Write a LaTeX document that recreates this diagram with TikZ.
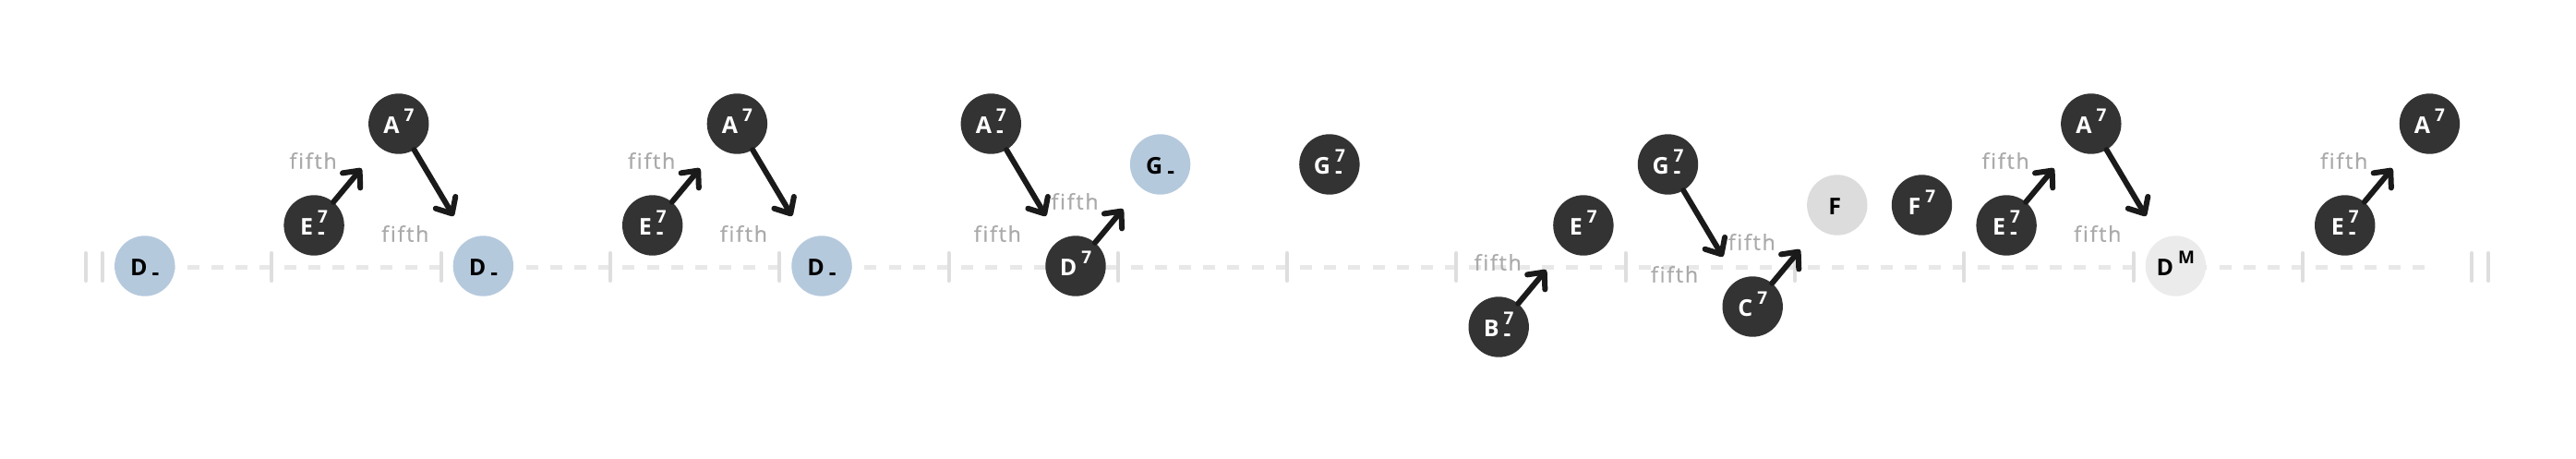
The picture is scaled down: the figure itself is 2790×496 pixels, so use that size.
\documentclass[tikz,border=0pt]{standalone}
\usepackage{fontspec}
\newfontfamily\chfont{Open Sans}
\newfontfamily\lblfont{Open Sans}[LetterSpace=8,Ligatures=CommonOff,FakeBold=1]
\usetikzlibrary{arrows.meta}
\definecolor{chdark}{HTML}{333333}
\definecolor{chblue}{HTML}{B5C9DD}
\definecolor{chgray}{HTML}{DCDCDC}
\definecolor{chpale}{HTML}{EBEBEB}
\definecolor{lblgray}{HTML}{AAAAAA}
\definecolor{barcol}{HTML}{DEDEDE}
\definecolor{dashcol}{HTML}{E8E8E8}
\definecolor{arrcol}{HTML}{1A1A1A}
\newsavebox\chsupbox
\newsavebox\chsubbox
\newcommand\chsym[3]{#1\kern5pt%
 \sbox\chsupbox{\fontsize{19}{19}\selectfont #2}%
 \sbox\chsubbox{\fontsize{24}{24}\selectfont #3}%
 \rlap{\raisebox{13pt}{\fontsize{19}{19}\selectfont\vphantom{7}}}%
 \rlap{\raisebox{13pt}{\usebox\chsupbox}}%
 \rlap{\raisebox{-5pt}{\usebox\chsubbox}}%
 \ifdim\wd\chsupbox>\wd\chsubbox\hspace*{\wd\chsupbox}\else\hspace*{\wd\chsubbox}\fi}
\tikzset{
 chord/.style={circle,minimum size=65.4pt,inner sep=0pt,
   font=\chfont\bfseries\fontsize{25}{25}\selectfont},
 dk/.style={chord,fill=chdark,text=white},
 bl/.style={chord,fill=chblue,text=black},
 gr/.style={chord,fill=chgray,text=black},
 pl/.style={chord,fill=chpale,text=black},
 arr/.style={draw=arrcol,line width=6pt,line cap=round,
   -{Straight Barb[length=14pt,width=25pt,line cap=round,line join=round]},
   shorten <=0pt,shorten >=30pt},
 lbl/.style={text=lblgray,inner sep=0pt,font=\lblfont\fontsize{23}{23}\selectfont},
 barline/.style={draw=barcol,line width=4pt,line cap=round},
 dashline/.style={draw=dashcol,line width=5pt,dash pattern=on 13.1pt off 13.1pt}
}
\begin{document}
\begin{tikzpicture}[x=1pt,y=-1pt]
\useasboundingbox (0,0) rectangle (2790,496);
% staff
\draw[dashline] (124.1,289.5) -- (2626,289.5);
\draw[barline] (93,274) -- (93,304);
\draw[barline] (111,274) -- (111,304);
\foreach \k in {1,...,13} \draw[barline] ({111+183.3*\k},274) -- ({111+183.3*\k},304);
\draw[barline] (2677,274) -- (2677,304);
\draw[barline] (2695,274) -- (2695,304);
% chords
\node[bl] (d1) at (156.8,288) {\chsym{D}{}{-}};
\node[dk] (e1) at (340.1,244) {\chsym{E}{7}{-}};
\node[dk] (a1) at (431.8,134) {\chsym{A}{7}{}};
\node[bl] (d2) at (523.4,288) {\chsym{D}{}{-}};
\node[dk] (e2) at (706.7,244) {\chsym{E}{7}{-}};
\node[dk] (a2) at (798.4,134) {\chsym{A}{7}{}};
\node[bl] (d3) at (890.0,288) {\chsym{D}{}{-}};
\node[dk] (am) at (1073.3,134) {\chsym{A}{7}{-}};
\node[dk] (d7) at (1165.0,288) {\chsym{D}{7}{}};
\node[bl] (gm) at (1256.6,178) {\chsym{G}{}{-}};
\node[dk] (gma) at (1439.9,178) {\chsym{G}{7}{-}};
\node[dk] (bm) at (1623.2,354) {\chsym{B}{7}{-}};
\node[dk] (e7) at (1714.9,244) {\chsym{E}{7}{}};
\node[dk] (gmb) at (1806.5,178) {\chsym{G}{7}{-}};
\node[dk] (c7) at (1898.2,332) {\chsym{C}{7}{}};
\node[gr] (f) at (1989.8,222) {\chsym{F}{}{}};
\node[dk] (f7) at (2081.5,222) {\chsym{F}{7}{}};
\node[dk] (e3) at (2173.1,244) {\chsym{E}{7}{-}};
\node[dk] (a3) at (2264.8,134) {\chsym{A}{7}{}};
\node[pl] (dm) at (2356.4,288) {\chsym{D}{M}{}};
\node[dk] (e4) at (2539.7,244) {\chsym{E}{7}{-}};
\node[dk] (a4) at (2631.4,134) {\chsym{A}{7}{}};
% arrows
\draw[arr] (e1) -- (a1);
\draw[arr] (a1) -- (d2);
\draw[arr] (e2) -- (a2);
\draw[arr] (a2) -- (d3);
\draw[arr] (am) -- (d7);
\draw[arr] (d7) -- (gm);
\draw[arr] (bm) -- (e7);
\draw[arr] (gmb) -- (c7);
\draw[arr] (c7) -- (f);
\draw[arr] (e3) -- (a3);
\draw[arr] (a3) -- (dm);
\draw[arr] (e4) -- (a4);
% labels
\node[lbl] (l1) at ([shift={(-1,-70)}]e1.center) {fifth};
\node[lbl] (l2) at ([shift={(7,119)}]a1.center) {fifth};
\node[lbl] (l3) at ([shift={(-1,-70)}]e2.center) {fifth};
\node[lbl] (l4) at ([shift={(7,119)}]a2.center) {fifth};
\node[lbl] (l5) at ([shift={(7,119)}]am.center) {fifth};
\node[lbl] (l6) at ([shift={(-1,-70)}]d7.center) {fifth};
\node[lbl] (l7) at ([shift={(-1,-70)}]bm.center) {fifth};
\node[lbl] (l8) at ([shift={(7,119)}]gmb.center) {fifth};
\node[lbl] (l9) at ([shift={(-1,-70)}]c7.center) {fifth};
\node[lbl] (l10) at ([shift={(-1,-70)}]e3.center) {fifth};
\node[lbl] (l11) at ([shift={(7,119)}]a3.center) {fifth};
\node[lbl] (l12) at ([shift={(-1,-70)}]e4.center) {fifth};
\end{tikzpicture}
\end{document}
